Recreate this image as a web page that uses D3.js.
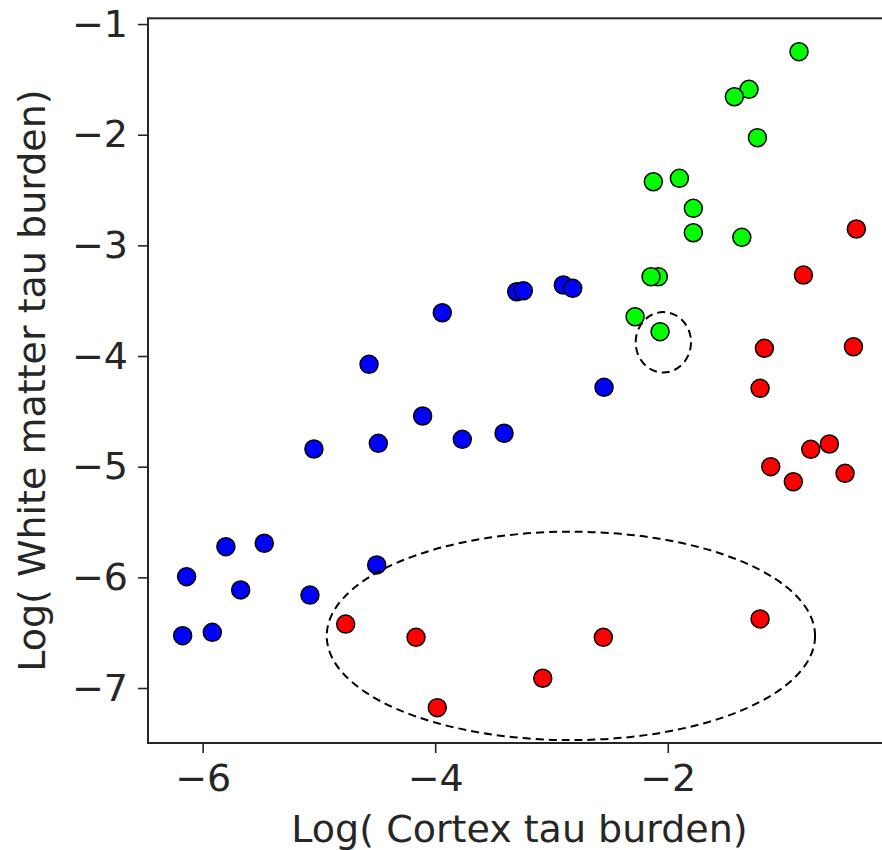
<!DOCTYPE html>
<html>
<head>
<meta charset="utf-8">
<script src="https://cdn.jsdelivr.net/npm/d3@7"></script>
<style>
  html, body { margin: 0; padding: 0; background: #fff; }
  svg { display: block; }
  text { font-family: "DejaVu Sans", sans-serif; fill: #262626; }
</style>
</head>
<body>
<svg id="chart" width="882" height="850"></svg>
<script>
// ---- data ----
const blueX  = [-6.172, -5.917, -6.138, -5.800, -5.673, -5.470, -5.077, -5.043, -4.503, -4.569,
                -4.489, -4.108, -3.939, -3.767, -3.408, -3.299, -3.242, -2.898, -2.817, -2.548];
const blueY  = [-6.527, -6.497, -5.994, -5.723, -6.114, -5.692, -6.160, -4.840, -5.888, -4.075,
                -4.789, -4.542, -3.609, -4.753, -4.698, -3.419, -3.410, -3.358, -3.388, -4.283];
const greenX = [-0.871, -1.301, -1.427, -1.229, -2.124, -1.900, -1.780, -1.780, -1.363, -2.081,
                -2.144, -2.281, -2.066];
const greenY = [-1.250, -1.590, -1.657, -2.027, -2.425, -2.394, -2.665, -2.886, -2.927, -3.283,
                -3.283, -3.645, -3.780];
const redX   = [-0.378, -0.833, -1.169, -0.403, -1.206, -0.610, -0.770, -1.114, -0.920, -0.475,
                -4.770, -4.165, -3.982, -3.075, -2.554, -1.206];
const redY   = [-2.852, -3.268, -3.930, -3.916, -4.292, -4.795, -4.843, -5.000, -5.136, -5.060,
                -6.422, -6.542, -7.178, -6.912, -6.542, -6.376];
const xTicks = [-6, -4, -2];
const yTicks = [-7, -6, -5, -4, -3, -2, -1];
const xLabel = "Log( Cortex tau burden)";
const yLabel = "Log( White matter tau burden)";
// highlighted regions: [centerX, centerY, radiusX, radiusY] in data units
const ellipseSmall = [-2.038, -3.876, 0.238, 0.273];
const ellipseLarge = [-2.833, -6.529, 2.100, 0.942];

// ---- layout ----
const svg = d3.select("#chart");
const mLeft = 148, mRight = 891, mTop = 18.3, mBottom = 743;
const x = d3.scaleLinear().domain([-6.47, -0.08]).range([mLeft, mRight]);
const y = d3.scaleLinear().domain([-7.497, -0.948]).range([mBottom, mTop]);

const fontSize = 38;

// axes
const xAxis = svg.append("g").attr("transform", `translate(0,${mBottom})`)
  .call(d3.axisBottom(x).tickValues(xTicks).tickSize(10).tickPadding(11).tickFormat(d3.format("d")));
const yAxis = svg.append("g").attr("transform", `translate(${mLeft},0)`)
  .call(d3.axisLeft(y).tickValues(yTicks).tickSize(10).tickPadding(10).tickFormat(d3.format("d")));
[xAxis, yAxis].forEach(g => {
  g.select(".domain").remove();
  g.selectAll(".tick line").attr("stroke", "#262626").attr("stroke-width", 1.6);
  g.selectAll(".tick text").attr("font-size", fontSize).attr("font-family", "DejaVu Sans").attr("fill", "#262626");
});

// spines
svg.append("rect")
  .attr("x", mLeft).attr("y", mTop)
  .attr("width", mRight - mLeft).attr("height", mBottom - mTop)
  .attr("fill", "none").attr("stroke", "#262626").attr("stroke-width", 2);

// points
function drawSeries(xs, ys, color) {
  svg.append("g").selectAll("circle")
    .data(xs.map((v, i) => [v, ys[i]]))
    .join("circle")
    .attr("cx", d => x(d[0]))
    .attr("cy", d => y(d[1]))
    .attr("r", 9)
    .attr("fill", color)
    .attr("stroke", "#000")
    .attr("stroke-width", 1.5);
}
drawSeries(blueX, blueY, "#0000ff");
drawSeries(greenX, greenY, "#00ff00");
drawSeries(redX, redY, "#ff0000");

// dashed ellipses
[ellipseSmall, ellipseLarge].forEach(e => {
  svg.append("ellipse")
    .attr("cx", x(e[0])).attr("cy", y(e[1]))
    .attr("rx", x(e[0] + e[2]) - x(e[0]))
    .attr("ry", y(e[1] - e[3]) - y(e[1]))
    .attr("fill", "none").attr("stroke", "#000")
    .attr("stroke-width", 2).attr("stroke-dasharray", "8,5");
});

// axis labels
svg.append("text")
  .attr("x", (mLeft + mRight) / 2).attr("y", 842)
  .attr("text-anchor", "middle").attr("font-size", fontSize)
  .text(xLabel);
svg.append("text")
  .attr("transform", `translate(45,${(mTop + mBottom) / 2}) rotate(-90)`)
  .attr("text-anchor", "middle").attr("font-size", fontSize)
  .text(yLabel);
</script>
</body>
</html>
